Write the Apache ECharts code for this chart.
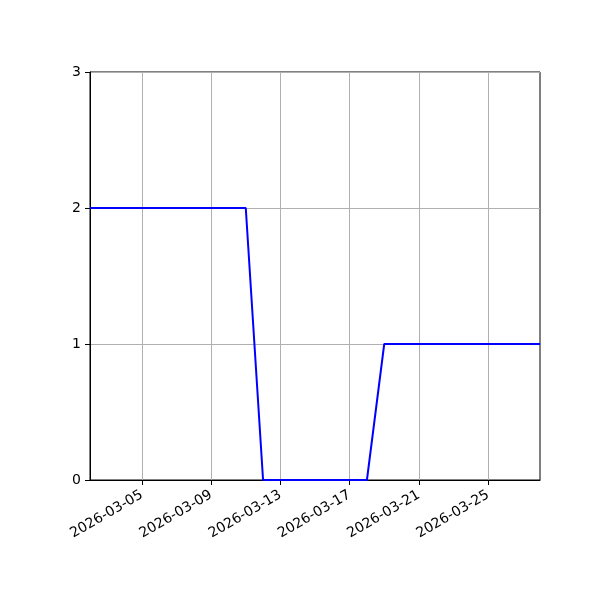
<!DOCTYPE html>
<html>
<head>
<meta charset="utf-8">
<script src="https://cdn.jsdelivr.net/npm/echarts@6/dist/echarts.min.js"></script>
<style>
html, body { margin: 0; padding: 0; background: #fff; }
#chart { width: 600px; height: 600px; }
</style>
</head>
<body>
<div id="chart"></div>
<script>
"use strict"

// daily dates 2026-03-02 .. 2026-03-28
var dates = [
    "2026-03-02", "2026-03-03", "2026-03-04", "2026-03-05", "2026-03-06",
    "2026-03-07", "2026-03-08", "2026-03-09", "2026-03-10", "2026-03-11",
    "2026-03-12", "2026-03-13", "2026-03-14", "2026-03-15", "2026-03-16",
    "2026-03-17", "2026-03-18", "2026-03-19", "2026-03-20", "2026-03-21",
    "2026-03-22", "2026-03-23", "2026-03-24", "2026-03-25", "2026-03-26",
    "2026-03-27", "2026-03-28"
];
var values = [
    2, 2, 2, 2, 2, 2, 2, 2, 2, 2,
    0, 0, 0, 0, 0, 0, 0,
    1, 1, 1, 1, 1, 1, 1, 1, 1, 1
];
var tickDates = ["2026-03-05", "2026-03-09", "2026-03-13", "2026-03-17", "2026-03-21", "2026-03-25"];

function isTick(index, value){
    return tickDates.indexOf(dates[index]) >= 0;
}

var chart = echarts.init(document.getElementById("chart"));
var font = "DejaVu Sans";
var option = {
    animation: false,
    grid: {
        left: 90,
        right: 60,
        top: 72,
        bottom: 120,
        show: true,
        borderColor: "#000",
        borderWidth: 1,
        backgroundColor: "#fff"
    },
    xAxis: {
        type: "category",
        boundaryGap: false,
        data: dates,
        axisLine: { lineStyle: { color: "#000", width: 1 } },
        axisTick: { show: true, interval: isTick, length: 5, lineStyle: { color: "#000" } },
        axisLabel: {
            interval: isTick,
            rotate: 30,
            color: "#000",
            fontFamily: font,
            fontSize: 14,
            margin: 14
        },
        splitLine: { show: true, interval: isTick, lineStyle: { color: "#b0b0b0", width: 1 } }
    },
    yAxis: {
        type: "value",
        min: 0,
        max: 3,
        interval: 1,
        axisLine: { show: true, lineStyle: { color: "#000", width: 1 } },
        axisTick: { show: true, length: 5, lineStyle: { color: "#000" } },
        axisLabel: { color: "#000", fontFamily: font, fontSize: 14, margin: 9 },
        splitLine: { show: true, lineStyle: { color: "#b0b0b0", width: 1 } }
    },
    series: [
        {
            type: "line",
            data: values,
            showSymbol: false,
            symbol: "none",
            lineStyle: { color: "#0000ff", width: 2 }
        }
    ]
};
chart.setOption(option);
</script>
</body>
</html>
